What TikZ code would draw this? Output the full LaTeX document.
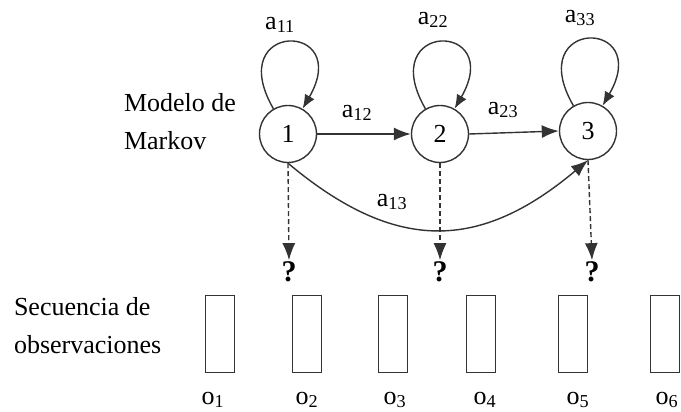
\documentclass[tikz,border=0pt]{standalone}
\usepackage{fontspec}
\setmainfont{Liberation Serif}
\usetikzlibrary{arrows.meta}
\tikzset{
  state/.style={circle,draw,minimum size=57pt,inner sep=0pt},
  obsbox/.style={draw,minimum width=29pt,minimum height=77pt,inner sep=0pt},
  tip/.style={-{Latex[length=17pt,width=13pt]}},
  selfloop/.style={-{Latex[length=14pt,width=11pt]},out=120,in=60,min distance=102pt},
  guess/.style={-{Latex[length=17pt,width=13pt,sep=0pt]},dash pattern=on 5pt off 3pt},
  qmark/.style={font=\fontsize{30}{32}\selectfont\bfseries,inner sep=1pt}
}
\begin{document}
\begin{tikzpicture}[x=1pt,y=1pt,line width=1.4pt,draw=black!80,
    font=\fontsize{26}{38}\selectfont]
		\useasboundingbox (0,0) rectangle (681,412);
		\node (s1) [state] at (288,278) {1};
		\node (s2) [state] at (440,278) {2};
		\node (s3) [state] at (588,281) {3};
		\node (model) [anchor=west,align=left] at (120,290) {Modelo de\\Markov};
		
		\draw[selfloop] (s1) to (s1);
		\draw[selfloop] (s2) to (s2);
		\draw[selfloop] (s3) to (s3);
		\node (a11) at (280,387) {a\textsubscript{11}};
		\node (a22) at (433,392) {a\textsubscript{22}};
		\node (a33) at (580,394) {a\textsubscript{33}};
		
		\draw[tip] (s1) to (s2);
		\draw[tip] (s2.east) to (s3.west);
		\draw[tip,out=-40,in=-140,looseness=1.2] (s1.south) to (s3.south);
		\node (a12) at (357,299) {a\textsubscript{12}};
		\node (a23) at (503,302) {a\textsubscript{23}};
		\node (a13) at (392,210) {a\textsubscript{13}};
		
		\node (q1) [qmark] at (289,140) {?};
		\node (q2) [qmark] at (440,140) {?};
		\node (q3) [qmark] at (592,140) {?};
		\draw[guess] (s1.south) to (q1.north);
		\draw[guess] (s2.south) to (q2.north);
		\draw[guess] (s3.south) to (q3.north);
		
		\node (seq) [anchor=west,align=left] at (10,86) {Secuencia de\\observaciones};
		\node (b1) [obsbox] at (220,78) {};
		\node (b2) [obsbox] at (307,78) {};
		\node (b3) [obsbox] at (393,78) {};
		\node (b4) [obsbox] at (481,78) {};
		\node (b5) [obsbox] at (573,78) {};
		\node (b6) [obsbox] at (665,78) {};
		\node (o1) at (213,12) {o\textsubscript{1}};
		\node (o2) at (307,12) {o\textsubscript{2}};
		\node (o3) at (395,12) {o\textsubscript{3}};
		\node (o4) at (485,12) {o\textsubscript{4}};
		\node (o5) at (578,12) {o\textsubscript{5}};
		\node (o6) at (667,12) {o\textsubscript{6}};
\end{tikzpicture}
\end{document}
